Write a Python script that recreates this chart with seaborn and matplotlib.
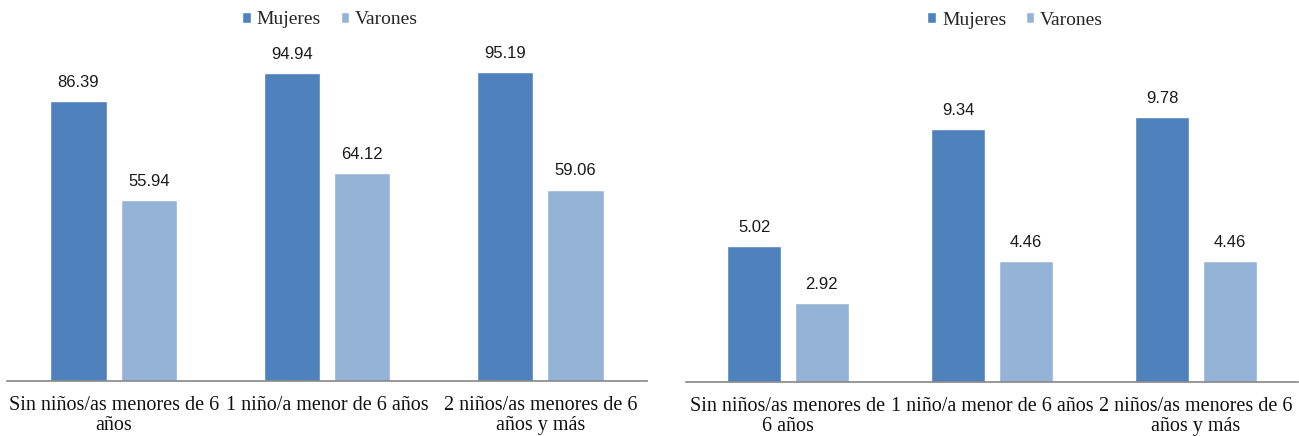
import matplotlib
matplotlib.use("Agg")
import matplotlib.pyplot as plt
import seaborn as sns
import pandas as pd
from matplotlib.patches import Patch

categories_left = ["Sin niños/as menores de 6\naños", "1 niño/a menor de 6 años", "2 niños/as menores de 6\naños y más"]
categories_right = ["Sin niños/as menores de\n6 años", "1 niño/a menor de 6 años", "2 niños/as menores de 6\naños y más"]
series = ["Mujeres", "Varones"]
left_mujeres = [86.39, 94.94, 95.19]
left_varones = [55.94, 64.12, 59.06]
right_mujeres = [5.02, 9.34, 9.78]
right_varones = [2.92, 4.46, 4.46]
colors = ["#4F81BD", "#95B3D7"]

sns.set_style("white")
SERIF = ["Liberation Serif", "DejaVu Serif"]
SANS = ["Liberation Sans", "DejaVu Sans"]

W, H = 1299, 436
fig = plt.figure(figsize=(W / 100, H / 100), dpi=100)

def make_df(cats, m, v):
    return pd.DataFrame({
        "cat": cats * 2,
        "serie": [series[0]] * 3 + [series[1]] * 3,
        "val": m + v,
    })

def panel(rect, cats, m, v, ytop, legx, legy):
    ax = fig.add_axes(rect)
    df = make_df(cats, m, v)
    sns.barplot(data=df, x="cat", y="val", hue="serie", order=cats, hue_order=series,
                palette=colors, width=0.66, gap=0.2, ax=ax, legend=False, saturation=1)
    ax.set_ylim(0, ytop)
    ax.set_xlim(-0.5, 2.5)
    for c in ax.containers:
        ax.bar_label(c, labels=[f"{x:.2f}" for x in c.datavalues], padding=8,
                     fontsize=12, family=SANS, color="#1a1a1a")
    ax.set_xlabel("")
    ax.set_ylabel("")
    ax.set_yticks([])
    for s in ["top", "right", "left"]:
        ax.spines[s].set_visible(False)
    ax.spines["bottom"].set_color("#868686")
    ax.spines["bottom"].set_linewidth(1.2)
    ax.tick_params(axis="x", length=0, pad=11)
    for t in ax.get_xticklabels():
        t.set_family(SERIF)
        t.set_fontsize(14.5)
        t.set_linespacing(1.08)
        t.set_color("#111111")
    handles = [Patch(facecolor=colors[i], label=series[i]) for i in range(2)]
    ax.legend(handles=handles, loc="center", bbox_to_anchor=(legx, legy), ncol=2,
              frameon=False, handlelength=0.45, handleheight=0.45, handletextpad=0.3,
              columnspacing=1.0, prop={"family": SERIF, "size": 14})
    return ax

ltop = 40
ax1 = panel([7 / W, (436 - 381) / H, 640 / W, (381 - ltop) / H], categories_left,
            left_mujeres, left_varones, (381 - ltop) / 3.241,
            0.505, 1 + (ltop - 20) / (381 - ltop))

ax2 = panel([686 / W, (436 - 382) / H, 612 / W, (382 - ltop) / H], categories_right,
            right_mujeres, right_varones, (382 - ltop) / 27.1,
            0.538, 1 + (ltop - 20) / (382 - ltop))

fig.savefig("out.png", dpi=100)
